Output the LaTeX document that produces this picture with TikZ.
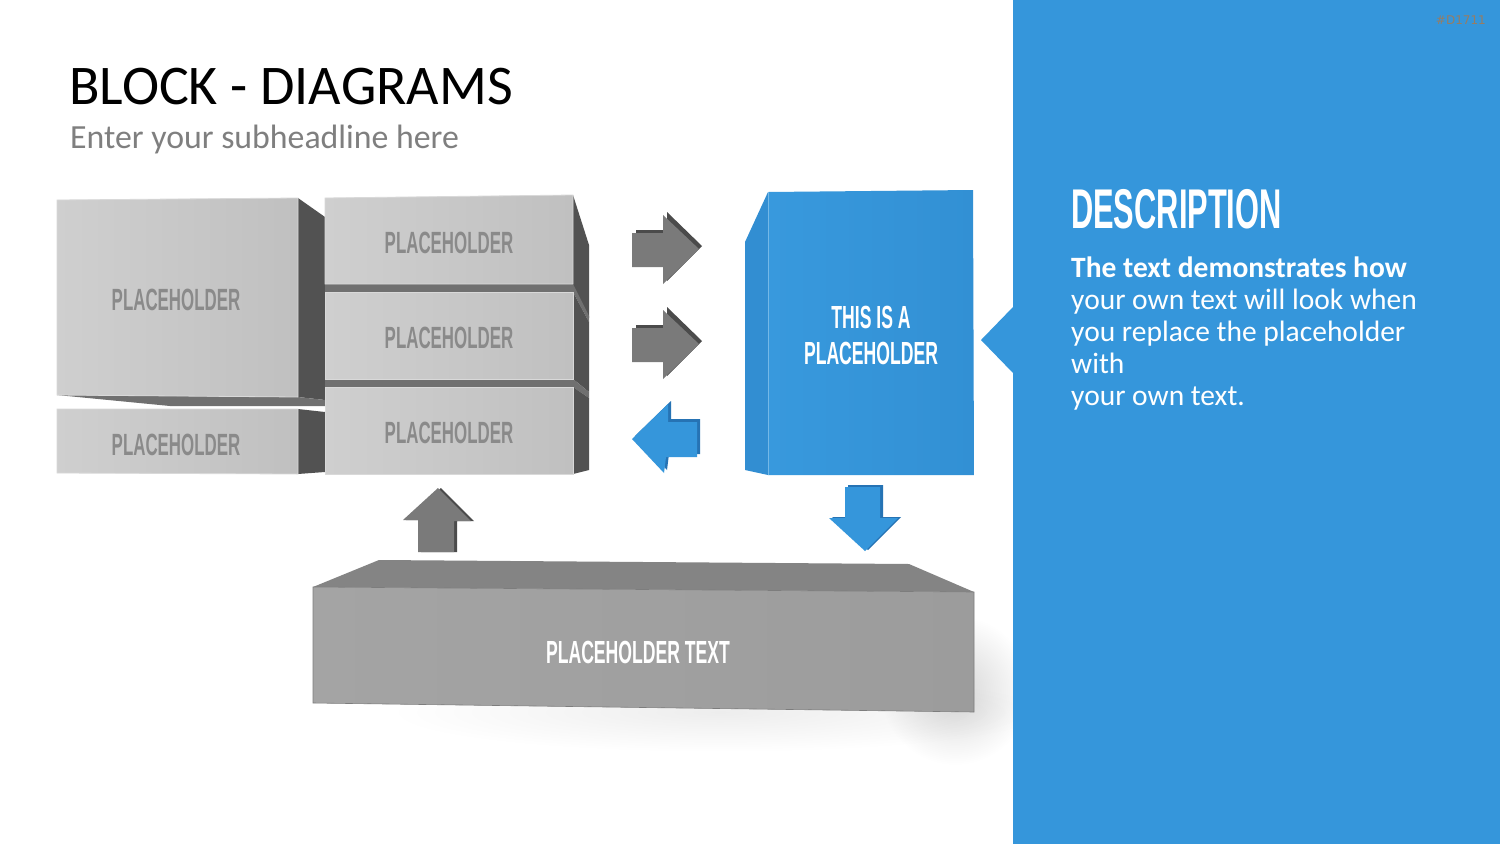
\documentclass[tikz,border=0pt]{standalone}
\usepackage{fontspec}
\usetikzlibrary{fadings}
\setmainfont{Carlito}
\newfontfamily\bebas{Liberation Sans}[FakeStretch=0.55]
\newfontfamily\dejavu{DejaVu Sans}
\definecolor{panelblue}{RGB}{53,150,219}
\definecolor{blueside}{RGB}{50,142,210}
\definecolor{bluedark}{RGB}{38,115,180}
\definecolor{bluefrontA}{RGB}{56,153,221}
\definecolor{bluefrontB}{RGB}{50,144,212}
\definecolor{frontA}{RGB}{207,207,207}
\definecolor{frontB}{RGB}{192,192,192}
\definecolor{sidedark}{RGB}{82,82,82}
\definecolor{bottomgray}{RGB}{112,112,112}
\definecolor{labelgray}{RGB}{138,138,138}
\definecolor{arrowgray}{RGB}{122,122,122}
\definecolor{arrowdark}{RGB}{75,75,75}
\definecolor{baseTop}{RGB}{132,132,132}
\definecolor{baseFrontA}{RGB}{164,164,164}
\definecolor{baseFrontB}{RGB}{156,156,156}
\definecolor{subgray}{RGB}{127,127,127}
\definecolor{codecol}{RGB}{150,125,100}
\tikzfading[name=softfade, inner color=transparent!0, outer color=transparent!100]
\tikzset{
  front/.style={left color=frontA, right color=frontB, draw=frontA!80!white, line width=0.8pt},
  side/.style={fill=sidedark},
  bottomface/.style={fill=bottomgray},
  blocklbl/.style={font=\bebas\bfseries\fontsize{30.7}{32}\selectfont, text=labelgray, inner sep=0pt},
  whitelbl/.style={font=\bebas\bfseries\fontsize{32}{34}\selectfont, text=white, inner sep=0pt},
  desc/.style={font=\fontsize{29.5}{32}\selectfont, text=white, anchor=base west, inner sep=0pt},
}
\begin{document}
\begin{tikzpicture}[x=1pt,y=-1pt]
\useasboundingbox (0,0) rectangle (1500,844);
\fill[white] (0,0) rectangle (1500,844);

% soft shadow under base block
\fill[black, opacity=0.16, path fading=softfade] (955,690) ellipse [x radius=75, y radius=75];
\fill[black, opacity=0.07, path fading=softfade] (720,712) ellipse [x radius=330, y radius=40];

% right panel
\fill[panelblue] (1013,0) rectangle (1500,844);
\fill[panelblue] (1013,307) -- (981,340) -- (1013,373) -- cycle;
\node[font=\dejavu\fontsize{12}{13}\selectfont, text=codecol, anchor=base east, inner sep=0pt] (code) at (1486,24) {\#D1711};

% titles
\node[font=\fontsize{56}{60}\selectfont, text=black, anchor=base west, inner sep=0pt] (title) at (69,104) {BLOCK - DIAGRAMS};
\node[font=\fontsize{33.8}{36}\selectfont, text=subgray, anchor=base west, inner sep=0pt] (subtitle) at (70,148) {Enter your subheadline here};

% description
\node[font=\bebas\bfseries\fontsize{56}{60}\selectfont, text=white, anchor=base west, inner sep=0pt] (deschead) at (1071,228) {DESCRIPTION};
\node[desc, font=\bfseries\fontsize{29.5}{32}\selectfont] (d1) at (1071,277) {The text demonstrates how};
\node[desc] (d2) at (1071,309) {your own text will look when};
\node[desc] (d3) at (1071,341) {you replace the placeholder};
\node[desc] (d4) at (1071,373) {with};
\node[desc] (d5) at (1071,405) {your own text.};

% left big block
\fill[side] (298,198) -- (325,217) -- (325,400) -- (298,397) -- cycle;
\fill[bottomface] (57,395) -- (298,397) -- (325,400) -- (325,406) -- (170,406) -- cycle;
\shade[front] (57,200) -- (298,198) -- (298,397) -- (57,395) -- cycle;
\node[blocklbl] (b1) at (176,300) {PLACEHOLDER};

% left small block
\fill[side] (298,409) -- (325,412) -- (325,472) -- (298,474) -- cycle;
\shade[front] (57,409) -- (298,409) -- (298,474) -- (57,473) -- cycle;
\node[blocklbl] (b2) at (176,445) {PLACEHOLDER};

% middle stack
\fill[side] (573,195) -- (589,245) -- (589,318) -- (573,287) -- cycle;
\fill[bottomface] (325,284) -- (573,284) -- (589,316) -- (589,322) -- (573,292) -- (325,292) -- cycle;
\shade[front] (325,198) -- (573,195) -- (573,284) -- (325,284) -- cycle;
\node[blocklbl] (b3) at (449,243) {PLACEHOLDER};

\fill[side] (573,292) -- (589,322) -- (589,392) -- (573,379) -- cycle;
\fill[bottomface] (325,379) -- (573,379) -- (589,392) -- (589,398) -- (573,387) -- (325,387) -- cycle;
\shade[front] (325,292) -- (573,292) -- (573,379) -- (325,379) -- cycle;
\node[blocklbl] (b4) at (449,338) {PLACEHOLDER};

\fill[side] (573,387) -- (589,398) -- (589,470) -- (573,474) -- cycle;
\shade[front] (325,387) -- (573,387) -- (573,474) -- (325,474) -- cycle;
\node[blocklbl] (b5) at (449,433) {PLACEHOLDER};

% blue block
\fill[blueside] (745,242) -- (768,192) -- (768,475) -- (745,470) -- cycle;
\shade[left color=bluefrontA, right color=bluefrontB] (768,192) -- (973,190) -- (974,475) -- (768,475) -- cycle;
\draw[bluefrontA!70!white, line width=0.8pt] (768,192) -- (768,475);
\node[whitelbl] (bl1) at (871,317) {THIS IS A};
\node[whitelbl] (bl2) at (871,353) {PLACEHOLDER};

% gray right arrows
\foreach \dy/\nm in {0/ar1, 95/ar2}{
  \begin{scope}[yshift=-\dy pt]
    \fill[arrowdark] (636,230) -- (667,230) -- (667,212) -- (702,246) -- (667,281) -- (667,264) -- (636,264) -- cycle;
    \fill[arrowgray] (632,233) -- (663,233) -- (663,215) -- (699,249) -- (663,284) -- (663,267) -- (632,267) -- cycle;
  \end{scope}
}

% blue left arrow
\fill[bluedark] (635,436) -- (671,401) -- (671,419) -- (700,419) -- (700,454) -- (669,454) -- (667,470) -- cycle;
\fill[panelblue] (632,439) -- (668,404) -- (668,422) -- (697,422) -- (697,457) -- (666,457) -- (664,473) -- cycle;

% gray up arrow
\fill[arrowdark] (441,488) -- (474,521) -- (457,521) -- (457,552) -- (421,552) -- (421,520) -- (406,520) -- cycle;
\fill[arrowgray] (438,488) -- (471,521) -- (454,521) -- (454,552) -- (418,552) -- (418,520) -- (403,520) -- cycle;

% blue down arrow
\fill[bluedark] (848,485) -- (883,485) -- (883,517) -- (901,517) -- (868,550) -- (832,517) -- (848,517) -- cycle;
\fill[panelblue] (845,487) -- (880,487) -- (880,518) -- (898,518) -- (865,551) -- (829,518) -- (845,518) -- cycle;

% base block
\fill[baseTop] (313,587) -- (379,560) -- (909,564) -- (974,592) -- cycle;
\shade[left color=baseFrontA, right color=baseFrontB, draw=baseFrontB!80!black, line width=0.6pt] (313,587) -- (974,592) -- (974,712) -- (313,703) -- cycle;
\node[font=\bebas\bfseries\fontsize{32}{34}\selectfont, text=white, inner sep=0pt] (base) at (638,652) {PLACEHOLDER TEXT};
\end{tikzpicture}
\end{document}
